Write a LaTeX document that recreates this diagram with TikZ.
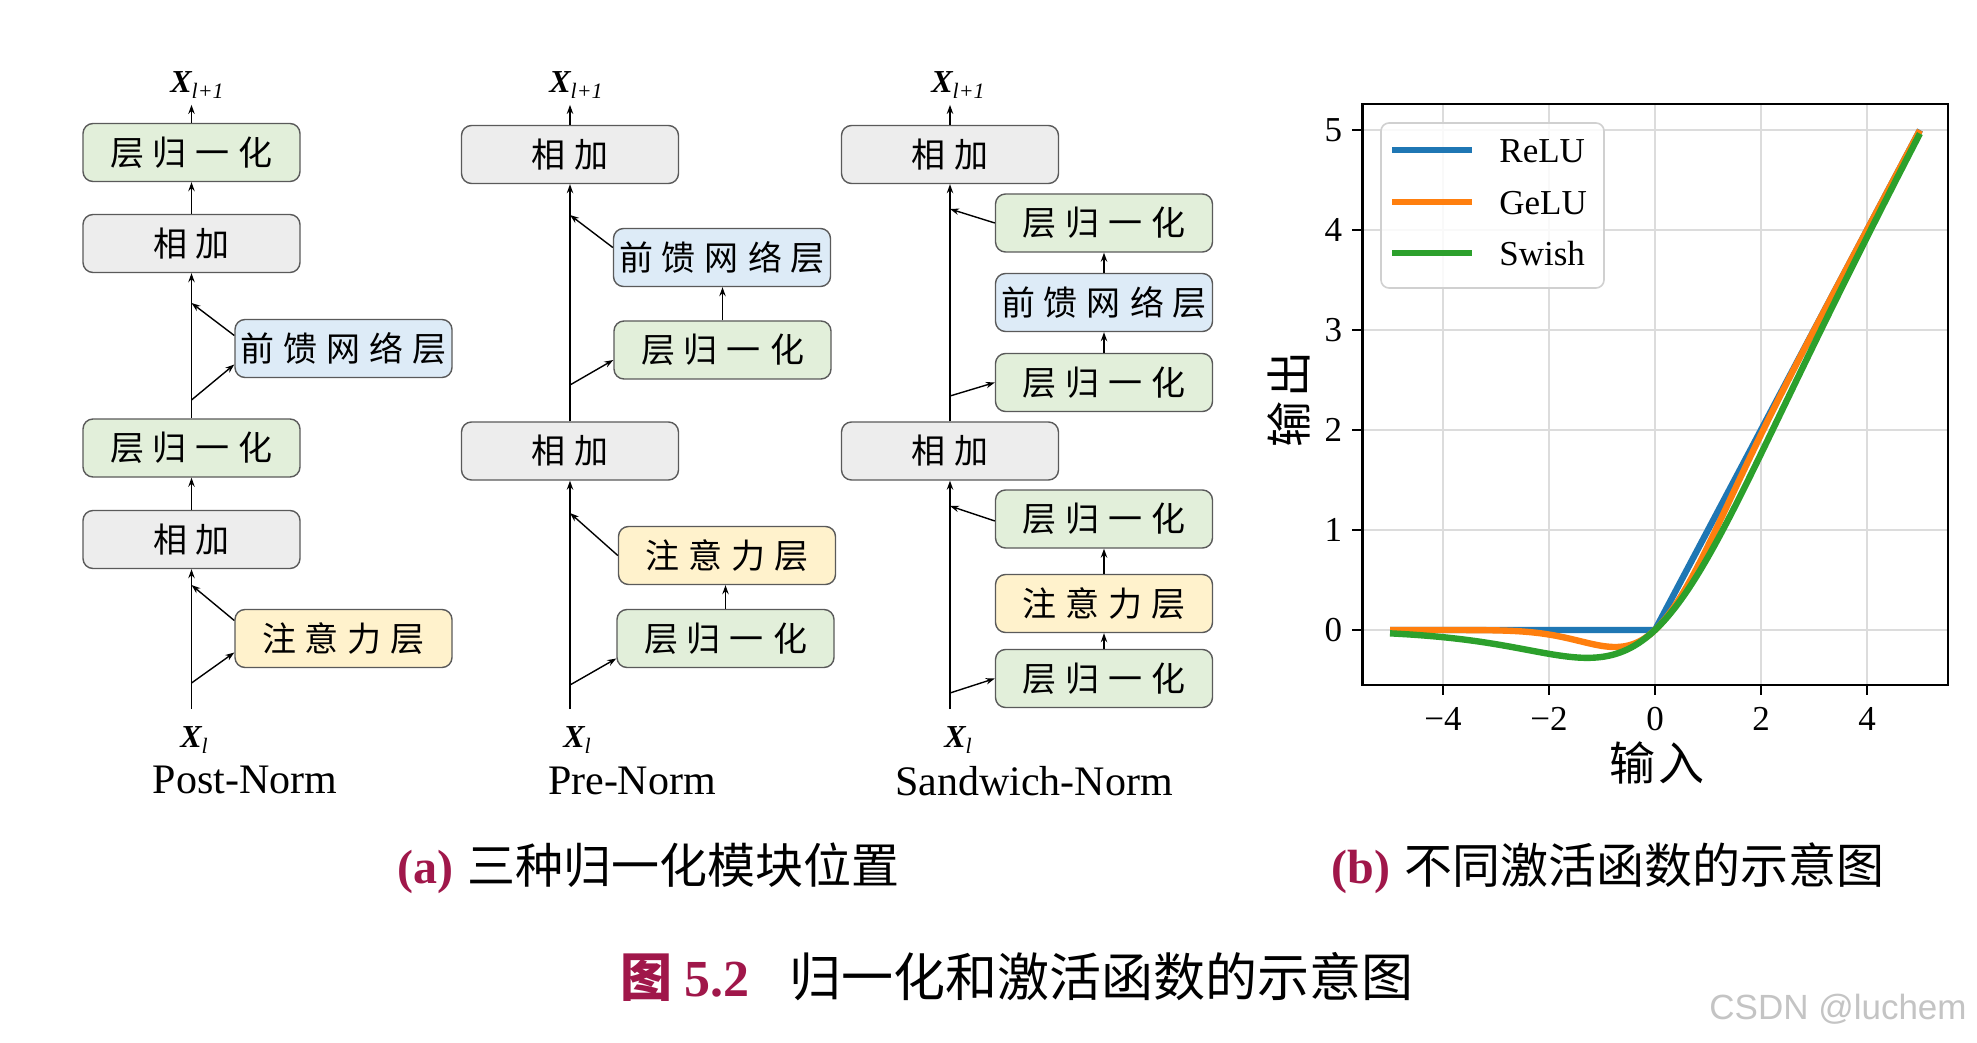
\documentclass[tikz,border=0pt]{standalone}
\usepackage{fontspec}
\setmainfont{Liberation Serif}
\newfontfamily\cjk{Noto Sans CJK SC}
\newfontfamily\wmfont{Liberation Sans}
\usetikzlibrary{arrows.meta,calc}
\definecolor{boxline}{HTML}{5A5A5A}
\definecolor{lngreen}{HTML}{E2EFDA}
\definecolor{addgray}{HTML}{EDEDED}
\definecolor{ffnblue}{HTML}{DDEBF7}
\definecolor{attyellow}{HTML}{FFF2CC}
\definecolor{capred}{HTML}{A0174A}
\definecolor{tabblue}{HTML}{1F77B4}
\definecolor{taborange}{HTML}{FF7F0E}
\definecolor{tabgreen}{HTML}{2CA02C}
\definecolor{gridgray}{HTML}{DCDCDC}
\definecolor{legedge}{HTML}{D0D0D0}
\definecolor{wmgray}{HTML}{C4C4C4}
\newcommand\gp{\hspace{4.5pt}}
\newcommand\tLN{层\gp 归\gp 一\gp 化}
\newcommand\tADD{相\gp 加}
\newcommand\tFFN{前\gp 馈\gp 网\gp 络\gp 层}
\newcommand\tATT{注\gp 意\gp 力\gp 层}
\newcommand\xlabel[1]{{\fontsize{16pt}{16pt}\selectfont\bfseries\itshape X}\raisebox{-3pt}{\fontsize{11pt}{11pt}\selectfont\itshape #1}}
\tikzset{
  blk/.style={draw=boxline, line width=0.7pt, rounded corners=5pt, minimum width=108.5pt,
    minimum height=29pt, inner sep=0pt, font=\cjk\fontsize{17pt}{17pt}\selectfont},
  lnbox/.style={blk, fill=lngreen},
  addbox/.style={blk, fill=addgray},
  ffnbox/.style={blk, fill=ffnblue},
  attbox/.style={blk, fill=attyellow},
  arr/.style={line width=0.7pt, -{Stealth[length=4.5pt,width=3.2pt]}},
  xlab/.style={inner sep=0pt},
  subname/.style={inner sep=0pt, font=\fontsize{21pt}{21pt}\selectfont},
  captext/.style={inner sep=0pt, anchor=west, font=\fontsize{24pt}{24pt}\selectfont},
  ticklab/.style={inner sep=0pt, font=\fontsize{17.5pt}{17.5pt}\selectfont},
  legtext/.style={inner sep=0pt, anchor=west, font=\fontsize{17.5pt}{17.5pt}\selectfont},
  fcurve/.style={line width=3.2pt, line join=round},
  gridl/.style={gridgray, line width=1pt},
}
\begin{document}
\begin{tikzpicture}[x=0.5pt,y=-0.5pt]
\fill[white] (0,0) rectangle (1977,1043);
\useasboundingbox (0,0) rectangle (1977,1043);

% ---------------- Post-Norm ----------------
\node[lnbox]  (pln2)  at (191.5,152.5) {\tLN};
\node[addbox] (padd2) at (191.5,243.5) {\tADD};
\node[ffnbox] (pffn)  at (343.5,348.5) {\tFFN};
\node[lnbox]  (pln1)  at (191.5,448)   {\tLN};
\node[addbox] (padd1) at (191.5,539.5) {\tADD};
\node[attbox] (patt)  at (343.5,638.5) {\tATT};
\node[xlab] (pout) at (197,85) {\xlabel{l+1}};
\node[xlab] (pin)  at (194,740) {\xlabel{l}};
\node[subname]  (pname) at (245,780) {Post-Norm};
\coordinate (pbot) at (191.5,709);
\coordinate (pb1) at (191.5,683);
\coordinate (pj1) at (191.5,585);
\coordinate (pb2) at (191.5,400);
\coordinate (pj2) at (191.5,303);
\draw[arr] (pbot) -- (padd1.south);
\draw[arr] (pb1) -- ($(patt.west)+(0,14)$);
\draw[arr] ($(patt.west)+(0,-18)$) -- (pj1);
\draw[arr] (padd1.north) -- (pln1.south);
\draw[arr] (pln1.north) -- (padd2.south);
\draw[arr] (pb2) -- ($(pffn.west)+(0,16)$);
\draw[arr] ($(pffn.west)+(0,-13)$) -- (pj2);
\draw[arr] (padd2.north) -- (pln2.south);
\draw[arr,shorten >=3pt] (pln2.north) -- (pln2.north |- pout.south);

% ---------------- Pre-Norm ----------------
\node[addbox] (qadd2) at (570,154.5) {\tADD};
\node[ffnbox] (qffn)  at (722,257.5) {\tFFN};
\node[lnbox]  (qln2)  at (722.5,350) {\tLN};
\node[addbox] (qadd1) at (570,451)   {\tADD};
\node[attbox] (qatt)  at (727,555.5) {\tATT};
\node[lnbox]  (qln1)  at (725.5,638.5) {\tLN};
\node[xlab] (qout) at (576,85) {\xlabel{l+1}};
\node[xlab] (qin)  at (577,740) {\xlabel{l}};
\node[subname]  (qname) at (632,781) {Pre-Norm};
\coordinate (qbot) at (570,709);
\coordinate (qb1) at (570,685);
\coordinate (qj1) at (570,513);
\coordinate (qb2) at (570,385);
\coordinate (qj2) at (570,215);
\draw[arr] (qbot) -- (qadd1.south);
\draw[arr] (qb1) -- ($(qln1.west)+(0,20)$);
\draw[arr] (qln1.north) -- (qln1.north |- qatt.south);
\draw[arr] (qatt.west) -- (qj1);
\draw[arr] (qadd1.north) -- (qadd2.south);
\draw[arr] (qb2) -- ($(qln2.west)+(0,10)$);
\draw[arr] (qln2.north) -- (qln2.north |- qffn.south);
\draw[arr] ($(qffn.west)+(0,-10)$) -- (qj2);
\draw[arr,shorten >=3pt] (qadd2.north) -- (qadd2.north |- qout.south);

% ---------------- Sandwich-Norm ----------------
\node[addbox] (radd2) at (950,154.5) {\tADD};
\node[lnbox]  (rln4)  at (1104,223)   {\tLN};
\node[ffnbox] (rffn)  at (1104,302.5) {\tFFN};
\node[lnbox]  (rln3)  at (1104,382.5) {\tLN};
\node[addbox] (radd1) at (950,451)    {\tADD};
\node[lnbox]  (rln2)  at (1104,519)   {\tLN};
\node[attbox] (ratt)  at (1104,603.5) {\tATT};
\node[lnbox]  (rln1)  at (1104,678.5) {\tLN};
\node[xlab] (rout) at (958,85) {\xlabel{l+1}};
\node[xlab] (rin)  at (958,740) {\xlabel{l}};
\node[subname]  (rname) at (1034,781) {Sandwich-Norm};
\coordinate (rbot) at (950,709);
\coordinate (rb1) at (950,693);
\coordinate (rj1) at (950,506);
\coordinate (rb2) at (950,396);
\coordinate (rj2) at (950,209);
\draw[arr] (rbot) -- (radd1.south);
\draw[arr] (rb1) -- (rln1.west);
\draw[arr] (rln1.north) -- (ratt.south);
\draw[arr] (ratt.north) -- (rln2.south);
\draw[arr] ($(rln2.west)+(0,2)$) -- (rj1);
\draw[arr] (radd1.north) -- (radd2.south);
\draw[arr] (rb2) -- (rln3.west);
\draw[arr] (rln3.north) -- (rffn.south);
\draw[arr] (rffn.north) -- (rln4.south);
\draw[arr] (rln4.west) -- (rj2);
\draw[arr,shorten >=3pt] (radd2.north) -- (radd2.north |- rout.south);

% ---------------- Plot ----------------
\begin{scope}[xshift=827.5pt, yshift=-315pt, x=26.5pt, y=50pt]
  \foreach \u in {-4,-2,0,2,4} \draw[gridl] (\u,-0.55) -- (\u,5.26);
  \foreach \v in {0,...,5} \draw[gridl] (-5.52,\v) -- (5.53,\v);
  \draw[fcurve, tabblue] (-5,0) -- (0,0) -- (5,5);
  \draw[fcurve, taborange] plot[domain=-5:5, samples=201] (\x,{0.5*\x*(1+tanh(0.7978845608*(\x+0.044715*\x*\x*\x)))});
  \draw[fcurve, tabgreen] plot[domain=-5:5, samples=201] (\x,{\x/(1+exp(-\x))});
  \draw[line width=1.2pt] (-5.52,-0.55) rectangle (5.53,5.26);
  \foreach \v in {0,...,5} {
    \draw[line width=1pt] (-5.52,\v) -- ++(-5pt,0);
    \node[ticklab, anchor=east] (yt\v) at ([xshift=-10pt]-5.52,\v) {\v};
  }
  \foreach \u/\s in {-4/−4,-2/−2,0/0,2/2,4/4} {
    \draw[line width=1pt] (\u,-0.55) -- ++(0,-5pt);
    \node[ticklab] (xt\u) at ([yshift=-17pt]\u,-0.55) {\s};
  }
\end{scope}
\node[inner sep=0pt, font=\cjk\fontsize{23pt}{23pt}\selectfont] (xname) at (1657,763) {输\hspace{2pt}入};
\node[inner sep=0pt, rotate=90, font=\cjk\fontsize{23pt}{23pt}\selectfont] (yname) at (1289,399) {输\hspace{2pt}出};
% legend
\draw[legedge, fill=white, fill opacity=0.85, line width=0.8pt, rounded corners=4pt] (1381,123) rectangle (1604,288);
\draw[tabblue, line width=3pt] (1392,150) -- (1472,150);
\draw[taborange, line width=3pt] (1392,202) -- (1472,202);
\draw[tabgreen, line width=3pt] (1392,253) -- (1472,253);
\node[legtext] (lg1) at (1499,151) {ReLU};
\node[legtext] (lg2) at (1499,203) {GeLU};
\node[legtext] (lg3) at (1499,254) {Swish};

% ---------------- Captions ----------------
\node[captext] (capa) at (397,868) {{\bfseries\color{capred}(a)}\hspace{7pt}{\cjk 三种归一化模块位置}};
\node[captext] (capb) at (1331,868) {{\bfseries\color{capred}(b)}\hspace{7pt}{\cjk 不同激活函数的示意图}};
\node[inner sep=0pt, anchor=west, font=\fontsize{26pt}{26pt}\selectfont] (figcap) at (620,977)
  {{\color{capred}{\cjk\bfseries 图}\hspace{6pt}\bfseries 5.2}\hspace{20pt}{\cjk 归一化和激活函数的示意图}};
\node[inner sep=0pt, anchor=west, text=wmgray, font=\wmfont\fontsize{17.5pt}{17.5pt}\selectfont] (wm) at (1709,1009) {CSDN @luchem};
\end{tikzpicture}
\end{document}
